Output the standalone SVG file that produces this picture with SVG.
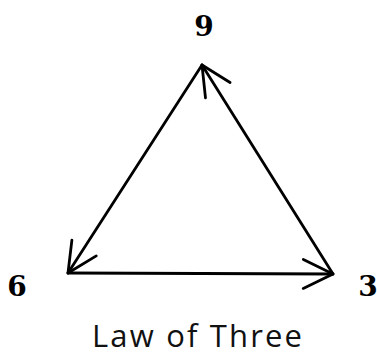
<svg xmlns="http://www.w3.org/2000/svg" width="377" height="356" viewBox="0 0 377 356">
  <style>
    .num { font-family: "DejaVu Serif", "Liberation Serif", serif; font-weight: bold; font-size: 28px; fill: #000; text-anchor: middle; }
    .title { font-family: "Open Sans", "Noto Sans", "Liberation Sans", sans-serif; font-size: 31px; fill: #111; text-anchor: middle; }
    .edge { stroke: #000; stroke-width: 2.8; fill: none; stroke-linecap: round; marker-end: url(#arrow); }
  </style>
  <defs>
    <marker id="arrow" markerUnits="userSpaceOnUse" viewBox="-34 -18 38 36" refX="0" refY="0" markerWidth="38" markerHeight="36" orient="auto" overflow="visible">
      <path d="M-29.7,-14.5 L0,0 L-29.7,14.5" fill="none" stroke="#000" stroke-width="2.8" stroke-linecap="round" stroke-linejoin="round"/>
    </marker>
  </defs>
  <rect width="377" height="356" fill="#fff"/>
  <g id="connectors">
    <path class="edge" d="M202,65 L68,273"/>
    <path class="edge" d="M68,273 L333,274"/>
    <path class="edge" d="M333,274 L202,65"/>
  </g>
  <g id="node-9">
    <text class="num" x="204" y="36">9</text>
  </g>
  <g id="node-6">
    <text class="num" x="17" y="296">6</text>
  </g>
  <g id="node-3">
    <text class="num" x="368" y="296">3</text>
  </g>
  <g id="title">
    <text class="title" x="197" y="347" textLength="210" lengthAdjust="spacing">Law of Three</text>
  </g>
</svg>
